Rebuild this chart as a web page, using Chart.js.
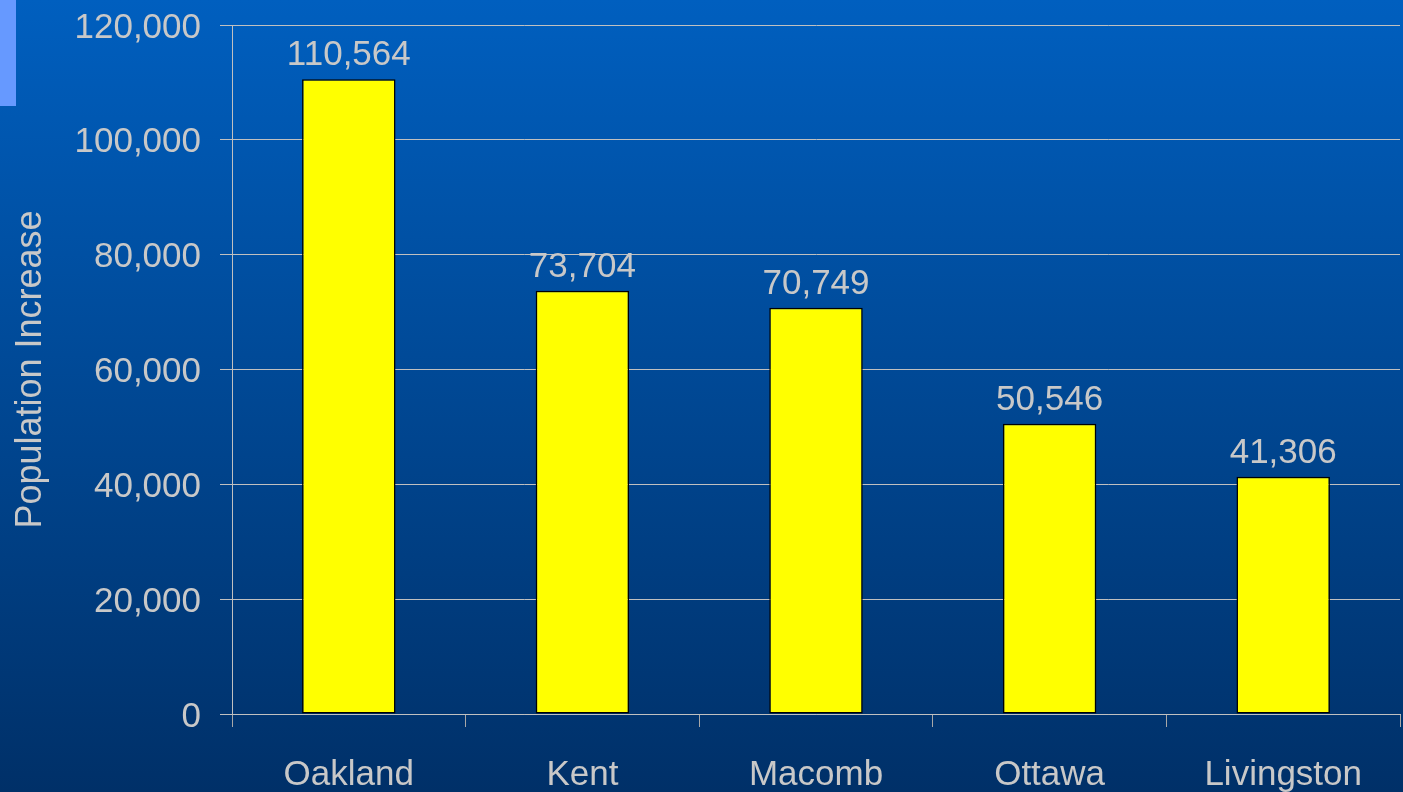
<!DOCTYPE html>
<html>
<head>
<meta charset="utf-8">
<title>Population Increase by County</title>
<script src="https://cdn.jsdelivr.net/npm/chart.js@4"></script>
<style>
    html, body { margin: 0; padding: 0; background: #003a78; }
    canvas { display: block; }
</style>
</head>
<body>
<canvas id="popChart" width="1403" height="792"></canvas>
<script>
// Chart data
const counties = ['Oakland', 'Kent', 'Macomb', 'Ottawa', 'Livingston'];
const increases = [110564, 73704, 70749, 50546, 41306];
const yTicks = [0, 20000, 40000, 60000, 80000, 100000, 120000];

const FONT = '"Liberation Sans", Arial, sans-serif';
const TEXT = '#c8c8c8';
const LINE = '#c0c0c0';

// Slide background: blue gradient plus the light accent block top-left
const slideBackground = {
    id: 'slideBackground',
    beforeDraw(chart) {
        const ctx = chart.ctx;
        const g = ctx.createLinearGradient(0, 0, 0, chart.height);
        g.addColorStop(0, '#005fbf');
        g.addColorStop(1, '#003068');
        ctx.save();
        ctx.fillStyle = g;
        ctx.fillRect(0, 0, chart.width, chart.height);
        ctx.fillStyle = '#6699ff';
        ctx.fillRect(0, 0, 16, 106);
        ctx.restore();
    }
};

// Value labels above each bar
const valueLabels = {
    id: 'valueLabels',
    afterDatasetsDraw(chart) {
        const ctx = chart.ctx;
        const meta = chart.getDatasetMeta(0);
        ctx.save();
        ctx.font = '35px ' + FONT;
        ctx.fillStyle = TEXT;
        ctx.textAlign = 'center';
        ctx.textBaseline = 'alphabetic';
        meta.data.forEach((bar, i) => {
            ctx.fillText(increases[i].toLocaleString('en-US'), bar.x, bar.y - 14);
        });
        ctx.restore();
    }
};

const ctx = document.getElementById('popChart').getContext('2d');
new Chart(ctx, {
    type: 'bar',
    data: {
        labels: counties,
        datasets: [{
            data: increases,
            backgroundColor: '#ffff00',
            borderColor: '#000000',
            borderWidth: 1.5,
            borderSkipped: false,
            barPercentage: 0.4,
            categoryPercentage: 1.0
        }]
    },
    options: {
        responsive: false,
        animation: false,
        devicePixelRatio: 1,
        layout: { padding: { top: 25, right: 3, left: 0, bottom: 0 } },
        plugins: {
            legend: { display: false },
            tooltip: { enabled: false }
        },
        scales: {
            x: {
                afterFit(scale) { scale.height = 78; },
                grid: {
                    offset: true,
                    drawOnChartArea: false,
                    drawTicks: true,
                    tickLength: 13,
                    color: '#a8a8a8',
                    lineWidth: 1
                },
                border: { display: true, color: LINE, width: 1 },
                ticks: {
                    color: TEXT,
                    font: { family: FONT, size: 35 },
                    padding: 27,
                    maxRotation: 0,
                    autoSkip: false
                }
            },
            y: {
                min: 0,
                max: 120000,
                afterFit(scale) {
                    scale.width = 232;
                    scale.paddingTop = 0;
                    scale.paddingBottom = 0;
                },
                afterBuildTicks(scale) {
                    scale.ticks = yTicks.map(v => ({ value: v }));
                },
                grid: {
                    color: LINE,
                    lineWidth: 1,
                    tickLength: 12
                },
                border: { display: true, color: LINE, width: 1 },
                ticks: {
                    color: TEXT,
                    font: { family: FONT, size: 35 },
                    padding: 19,
                    labelOffset: 3,
                    callback: v => v.toLocaleString('en-US')
                },
                title: {
                    display: true,
                    text: 'Population Increase',
                    color: TEXT,
                    font: { family: FONT, size: 36 },
                    padding: { top: 9, bottom: 0 }
                }
            }
        }
    },
    plugins: [slideBackground, valueLabels]
});
</script>
</body>
</html>
